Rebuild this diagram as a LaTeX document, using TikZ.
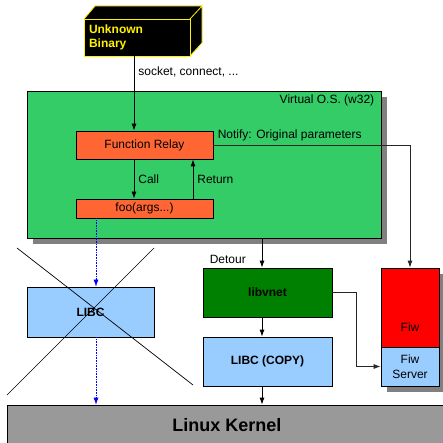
\documentclass[tikz,border=0pt,12pt]{standalone}
\usepackage{fontspec}
\setmainfont{Liberation Sans}
\usetikzlibrary{shapes,arrows,arrows.meta,positioning,calc,shadows}

\tikzset{
  blk/.style={draw=black, line width=0.8pt, inner sep=0pt},
  shade6/.style={drop shadow={shadow xshift=6pt, shadow yshift=-6pt, fill=gray, opacity=1}},
  arr/.style={line width=0.8pt, -{Latex[length=7pt,width=5pt]}},
  gone/.style={blue, densely dotted, line width=0.6pt, -{Latex[length=7pt,width=5pt]}}
}

\begin{document}
\begin{tikzpicture}[x=1pt, y=-1pt]
        \definecolor{vosgreen}{RGB}{51,204,102}
        \definecolor{relayorange}{RGB}{255,102,51}
        \definecolor{libblue}{RGB}{153,204,255}
        \definecolor{vnetgreen}{RGB}{0,128,0}
        \definecolor{kernelgray}{RGB}{153,153,153}
        \useasboundingbox (0,0) rectangle (443,443);

        % x positions of the vertical connectors
        \coordinate (cx) at (134,0);
        \coordinate (rx) at (193,0);
        \coordinate (bx) at (96,0);
        \coordinate (dx) at (262,0);
        \coordinate (jx) at (356,0);

        % Unknown binary - black block with yellow edges
        \fill[black] (84,19) -- (95,6) -- (202,6) -- (202,43) -- (190,56) -- (84,56) -- cycle;
        \draw[yellow, line width=0.8pt] (84,19) -- (95,6) -- (202,6) -- (190,19) (202,6) -- (202,43) -- (190,56);
        \node[blk, draw=yellow, fill=black, text=yellow, font=\bfseries, align=left, text width=96pt, inner xsep=5pt, minimum width=106pt, minimum height=37pt] (ub) at (137,37.5) {Unknown\\Binary};

        % Virtual OS
        \node[blk, fill=vosgreen, shade6, minimum width=354pt, minimum height=147pt] (vos) at (204,164.5) {};
        \node[anchor=north east] (vostxt) at ([xshift=-3pt]vos.north east) {Virtual O.S. (w32)};

        \node[blk, fill=relayorange, minimum width=137pt, minimum height=28pt] (fr) at (144.5,145) {Function Relay};
        \node[blk, fill=relayorange, minimum width=137pt, minimum height=19pt] (foo) at (144.5,208.5) {foo(args...)};

        % Libraries
        \node[blk, fill=libblue, font=\bfseries, minimum width=127pt, minimum height=50pt] (libc) at (90.5,312) {LIBC};
        \node[blk, fill=vnetgreen, font=\bfseries, minimum width=129pt, minimum height=49pt] (vnet) at (267.5,292.5) {libvnet};
        \node[blk, fill=libblue, font=\bfseries, minimum width=129pt, minimum height=49pt] (libcc) at (267.5,361.5) {LIBC (COPY)};

        % Fiw
        \node[blk, fill=red, shade6, minimum width=58pt, minimum height=79pt] (fiw) at (410,307.5) {};
        \node[above=12pt of fiw.south] (fiwtxt) {Fiw};
        \node[blk, fill=libblue, shade6, align=center, minimum width=58pt, minimum height=39pt] (fiws) at (410,366.5) {Fiw\\Server};

        % Kernel
        \node[blk, fill=kernelgray, font=\fontsize{18}{22}\selectfont\bfseries, minimum width=440pt, minimum height=40pt] (kernel) at (227,425) {Linux Kernel};

        % Arrows
        \draw[arr] (ub.south -| cx) -- (fr.north -| cx) node[pos=0.21, right] {socket, connect, ...};
        \draw[arr] (fr.south -| cx) -- (foo.north -| cx) node[midway, right] {Call};
        \draw[arr] (foo.north -| rx) -- (fr.south -| rx) node[midway, right] {Return};
        \draw[arr, black!85] (fr.east) -| (fiw.north) node[pos=0, above right, black] {Notify: Original parameters};
        \draw[gone] (foo.south -| bx) -- (libc.north -| bx);
        \draw[gone] (libc.south -| bx) -- (kernel.north -| bx);
        \draw[arr] (vos.south -| dx) -- (vnet.north -| dx);
        \node[above right=0pt and 3pt of vnet.north west] (detour) {Detour};
        \draw[arr] (vnet.south -| dx) -- (libcc.north -| dx);
        \draw[arr] (libcc.south -| dx) -- (kernel.north -| dx);
        \draw[arr, black!85] (vnet.east) -- (vnet.east -| jx) |- (fiws.west);

        % LIBC crossed out
        \draw[line width=0.7pt] (17,248) -- (193,385);
        \draw[line width=0.7pt] (154,248) -- (7,395);
    \end{tikzpicture}
\end{document}
